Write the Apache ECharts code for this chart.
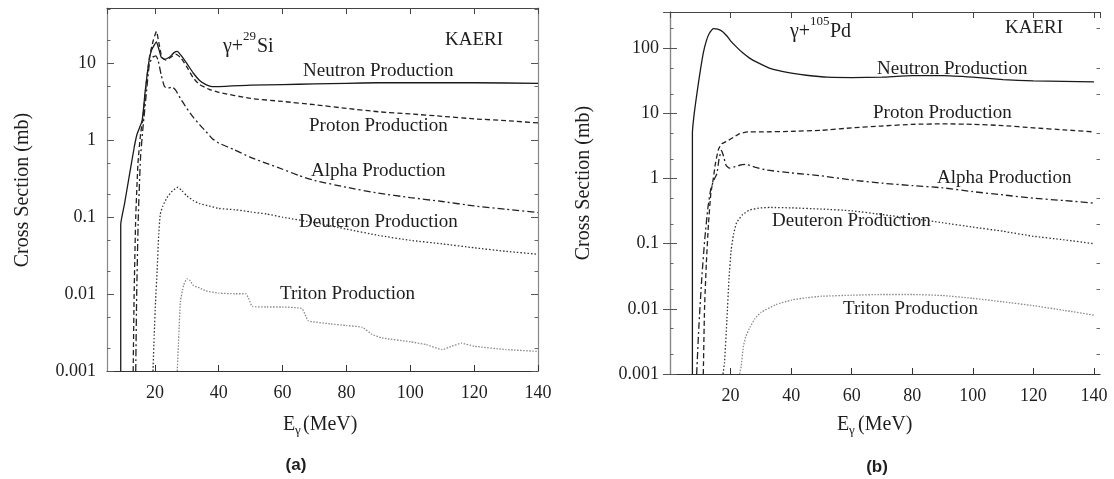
<!DOCTYPE html>
<html>
<head>
<meta charset="utf-8">
<script src="https://cdn.jsdelivr.net/npm/echarts@6/dist/echarts.min.js"></script>
<style>
  html, body { margin: 0; padding: 0; background: #fff; }
  #chart { width: 1114px; height: 479px; }
</style>
</head>
<body>
<div id="chart"></div>
<script>
// Photonuclear production cross sections (mb) versus photon energy E (MeV), KAERI evaluation.
// Each point is [E in MeV, cross section in mb].

// (a) gamma + 29Si
const siNeutron = [[9.3,0.001],[9.3,0.08],[10.5,0.15],[12,0.35],[13.5,0.8],[14.4,1.2],[16,1.8],[17,4.5],[18.2,11],[19,15],[20.5,19],[21.3,15],[22,12],[23,11.3],[24.5,12],[26,13.8],[27,14.3],[28,13],[30,10],[32,7.5],[34,6],[36,5.3],[38,5.0],[40,5.0],[50,5.2],[60,5.3],[70,5.4],[80,5.5],[90,5.6],[100,5.6],[120,5.6],[140,5.5]];
const siProton = [[13.2,0.001],[13.5,0.01],[14,0.1],[14.7,0.5],[15.5,1.2],[16.3,2],[17.2,5],[18.3,12],[19.5,20],[20.5,26],[21.3,18],[22.2,12],[23.5,11],[25,12],[26.5,13.2],[28,12],[30,9],[32,6.5],[34,5.3],[37,4.6],[40,4.2],[50,3.5],[60,3.2],[70,2.9],[80,2.6],[90,2.35],[100,2.2],[110,2.05],[120,1.9],[130,1.8],[140,1.68]];
const siAlpha = [[14,0.001],[14.3,0.01],[14.8,0.1],[15.5,0.6],[16.3,1.5],[17.3,4],[18.3,10],[19.3,12],[20.3,12.5],[21,11],[22,7],[23,5.0],[24,4.8],[25.5,4.9],[26.5,4.5],[28,3.5],[30,2.6],[32,2.0],[34,1.6],[36,1.3],[38,1.05],[40,0.92],[45,0.75],[50,0.6],[55,0.5],[60,0.42],[65,0.35],[70,0.3],[80,0.245],[90,0.205],[100,0.18],[110,0.16],[120,0.14],[130,0.127],[140,0.115]];
const siDeuteron = [[19.4,0.001],[19.8,0.003],[20.2,0.008],[20.7,0.02],[21.2,0.06],[21.7,0.11],[22.5,0.14],[23.8,0.18],[25.5,0.22],[27.2,0.245],[28.5,0.22],[30,0.19],[32,0.165],[34,0.15],[37,0.14],[40,0.13],[45,0.125],[50,0.117],[55,0.11],[60,0.1],[70,0.085],[80,0.07],[90,0.058],[100,0.05],[110,0.045],[120,0.04],[130,0.036],[140,0.033]];
const siTriton = [[27,0.001],[27.5,0.003],[28,0.008],[29,0.013],[30,0.0158],[31,0.015],[32,0.013],[34,0.012],[36,0.011],[40,0.0103],[45,0.0101],[48.5,0.0101],[49.5,0.0085],[50.5,0.0069],[55,0.0068],[60,0.0068],[66,0.0065],[67,0.0055],[68,0.0045],[75,0.0041],[80,0.0039],[85,0.0037],[88,0.003],[91,0.0027],[100,0.0024],[105,0.0022],[110,0.0019],[113,0.0021],[116,0.0023],[120,0.0021],[130,0.0019],[140,0.0018]];

// (b) gamma + 105Pd
const pdNeutron = [[7.4,0.001],[7.4,5],[8,10],[9,22],[10,45],[11,85],[12,130],[13,170],[14.3,200],[16,195],[17.5,178],[19,150],[20,130],[22,104],[24,85],[26.4,70],[29,60],[33,49],[37,44],[40.6,41],[45,38.5],[52,36],[60,35.5],[70,36],[80,38],[90,38],[100,36],[110,33],[120,31.5],[130,31],[140,30.5]];
const pdProton = [[11,0.001],[11.4,0.01],[12,0.05],[12.7,0.2],[13.5,0.6],[14.3,1.0],[15,1.7],[16,2.8],[17,3.4],[19,3.8],[21,4.3],[23,4.9],[26,5.2],[30,5.2],[40,5.3],[50,5.5],[60,6.0],[70,6.4],[80,6.8],[90,6.9],[100,6.8],[110,6.5],[120,6.0],[130,5.6],[140,5.2]];
const pdAlpha = [[8.8,0.001],[9.5,0.005],[10.5,0.03],[11.5,0.12],[12.5,0.35],[13.5,0.7],[14.5,0.95],[15.5,1.2],[16.2,2.0],[17,2.7],[17.7,2.2],[18.5,1.6],[19.5,1.45],[21,1.5],[23,1.6],[25,1.65],[28,1.5],[32,1.35],[40,1.22],[50,1.1],[60,0.95],[70,0.85],[80,0.78],[90,0.72],[100,0.63],[110,0.56],[120,0.5],[130,0.46],[140,0.42]];
const pdDeuteron = [[17.5,0.001],[18,0.0015],[18.8,0.007],[19.5,0.03],[20.2,0.08],[21,0.14],[22,0.21],[24,0.28],[26.4,0.33],[30,0.355],[33,0.36],[40,0.355],[50,0.34],[60,0.32],[70,0.28],[80,0.245],[90,0.21],[100,0.18],[110,0.155],[120,0.13],[130,0.115],[140,0.1]];
const pdTriton = [[23,0.001],[23.5,0.0013],[24.2,0.0026],[25,0.0037],[26.4,0.0052],[28,0.007],[30,0.0088],[35,0.0116],[40,0.0136],[45,0.0148],[50,0.0156],[60,0.0162],[70,0.0166],[80,0.0166],[90,0.016],[100,0.0145],[110,0.0128],[120,0.0112],[130,0.0095],[140,0.008]];

// Axis ranges and minor log ticks
const siRangeE = [5, 140];
const siRangeXS = [0.001, 52.5];
const pdRangeE = [0, 142];
const pdRangeXS = [0.001, 360];
const siMinorTicks = [0.002,0.005,0.02,0.05,0.2,0.5,2,5,20,50];
const pdMinorTicks = [0.002,0.005,0.02,0.05,0.2,0.5,2,5,20,50,200];

const SERIF = "'Liberation Serif', 'Times New Roman', serif";
const INK = '#1e1e1e';

function logLabel(v) {
  const e = Math.round(Math.log10(v));
  return e >= 0 ? String(Math.pow(10, e)) : Math.pow(10, e).toFixed(-e);
}

function xAxes(grid, range) {
  const base = {
    type: 'value', gridIndex: grid, min: range[0], max: range[1],
    minInterval: 20, maxInterval: 20, splitLine: { show: false }
  };
  return [
    Object.assign({}, base, {
      position: 'bottom',
      axisLine: { show: true, lineStyle: { color: '#333', width: 1.2 } },
      axisTick: { inside: true, length: 6, lineStyle: { color: '#333' } },
      axisLabel: { margin: 13, fontFamily: SERIF, fontSize: 18, color: INK, showMinLabel: false, showMaxLabel: range[1] === 140 }
    }),
    Object.assign({}, base, {
      position: 'top',
      axisLine: { show: true, lineStyle: { color: '#444', width: 1.2 } },
      axisTick: { inside: true, length: 6, lineStyle: { color: '#444' } },
      axisLabel: { show: false }
    })
  ];
}

function yAxes(grid, range, minor) {
  const base = {
    type: 'log', logBase: 10, gridIndex: grid, min: range[0], max: range[1],
    splitLine: { show: false }
  };
  return [
    Object.assign({}, base, {
      position: 'left',
      axisLine: { show: true, lineStyle: { color: '#888', width: 1.2 } },
      axisTick: { inside: true, length: 7, lineStyle: { color: '#555' } },
      axisLabel: { margin: 11, fontFamily: SERIF, fontSize: 18, color: INK, showMaxLabel: false, formatter: logLabel }
    }),
    Object.assign({}, base, {
      position: 'right',
      axisLine: { show: true, lineStyle: { color: '#888', width: 1.2 } },
      axisTick: { inside: true, length: 7, lineStyle: { color: '#555' } },
      axisLabel: { show: false }
    }),
    Object.assign({}, base, {
      position: 'left',
      axisLine: { show: false },
      axisTick: { inside: true, length: 3.5, customValues: minor, lineStyle: { color: '#666' } },
      axisLabel: { show: false }
    }),
    Object.assign({}, base, {
      position: 'right',
      axisLine: { show: false },
      axisTick: { inside: true, length: 3.5, customValues: minor, lineStyle: { color: '#666' } },
      axisLabel: { show: false }
    })
  ];
}

const styles = {
  neutron:  { color: '#1a1a1a', width: 1.3, type: 'solid' },
  proton:   { color: '#222', width: 1.3, type: [5, 3] },
  alpha:    { color: '#222', width: 1.3, type: [7, 3, 2, 3] },
  deuteron: { color: '#333', width: 1.3, type: [1.5, 2] },
  triton:   { color: '#8a8a8a', width: 1.3, type: [1.5, 1.5] }
};

function line(name, data, xi, yi, style) {
  return {
    name: name, type: 'line', data: data, xAxisIndex: xi, yAxisIndex: yi,
    showSymbol: false, symbol: 'none', smooth: 0.15, animation: false,
    lineStyle: style, z: 3
  };
}

function text(x, y, str, size, extra) {
  return Object.assign({
    type: 'text', x: x, y: y, silent: true,
    style: Object.assign({
      text: str, fontFamily: SERIF, fontSize: size, fill: INK,
      textAlign: 'left', textVerticalAlign: 'middle'
    }, (extra && extra.style) || {})
  }, extra && extra.rotation !== undefined ? { rotation: extra.rotation } : {});
}

const graphics = [
  // (a) axis titles and panel tag
  text(23, 190, 'Cross Section (mb)', 20, { rotation: Math.PI / 2, style: { textAlign: 'center' } }),
  text(283, 425, 'E', 20),
  text(295, 431, 'γ', 13),
  text(303, 425, '(MeV)', 20),
  text(296, 465, '(a)', 17, { style: { textAlign: 'center', fontFamily: "'Liberation Sans', Arial, sans-serif", fontWeight: 'bold' } }),
  // (a) annotations
  text(223, 47, 'γ+', 20),
  text(243, 37, '29', 13),
  text(257, 47, 'Si', 20),
  text(445, 40, 'KAERI', 19),
  text(303, 71, 'Neutron Production', 19),
  text(309, 126, 'Proton Production', 19),
  text(311, 171, 'Alpha Production', 19),
  text(299, 222, 'Deuteron Production', 19),
  text(280, 294, 'Triton Production', 19),

  // (b) axis titles and panel tag
  text(584, 183, 'Cross Section (mb)', 20, { rotation: Math.PI / 2, style: { textAlign: 'center' } }),
  text(837, 425, 'E', 20),
  text(849, 431, 'γ', 13),
  text(858, 425, '(MeV)', 20),
  text(877, 467, '(b)', 17, { style: { textAlign: 'center', fontFamily: "'Liberation Sans', Arial, sans-serif", fontWeight: 'bold' } }),
  // (b) annotations
  text(790, 32, 'γ+', 20),
  text(810, 22, '105', 13),
  text(830, 32, 'Pd', 20),
  text(1005, 28, 'KAERI', 19),
  text(877, 69, 'Neutron Production', 19),
  text(873, 113, 'Proton Production', 19),
  text(937, 178, 'Alpha Production', 19),
  text(772, 221, 'Deuteron Production', 19),
  text(843, 309, 'Triton Production', 19)
];

const chart = echarts.init(document.getElementById('chart'), null, { renderer: 'canvas' });
chart.setOption({
  backgroundColor: '#ffffff',
  animation: false,
  grid: [
    { left: 107, top: 8, width: 431, height: 363 },
    { left: 670, top: 12, width: 430, height: 362 }
  ],
  xAxis: [].concat(xAxes(0, siRangeE), xAxes(1, pdRangeE)),
  yAxis: [].concat(yAxes(0, siRangeXS, siMinorTicks), yAxes(1, pdRangeXS, pdMinorTicks)),
  series: [
    line('Neutron Production', siNeutron, 0, 0, styles.neutron),
    line('Proton Production', siProton, 0, 0, styles.proton),
    line('Alpha Production', siAlpha, 0, 0, styles.alpha),
    line('Deuteron Production', siDeuteron, 0, 0, styles.deuteron),
    line('Triton Production', siTriton, 0, 0, styles.triton),
    line('Neutron Production', pdNeutron, 2, 4, styles.neutron),
    line('Proton Production', pdProton, 2, 4, styles.proton),
    line('Alpha Production', pdAlpha, 2, 4, styles.alpha),
    line('Deuteron Production', pdDeuteron, 2, 4, styles.deuteron),
    line('Triton Production', pdTriton, 2, 4, styles.triton)
  ],
  graphic: graphics
});
</script>
</body>
</html>
